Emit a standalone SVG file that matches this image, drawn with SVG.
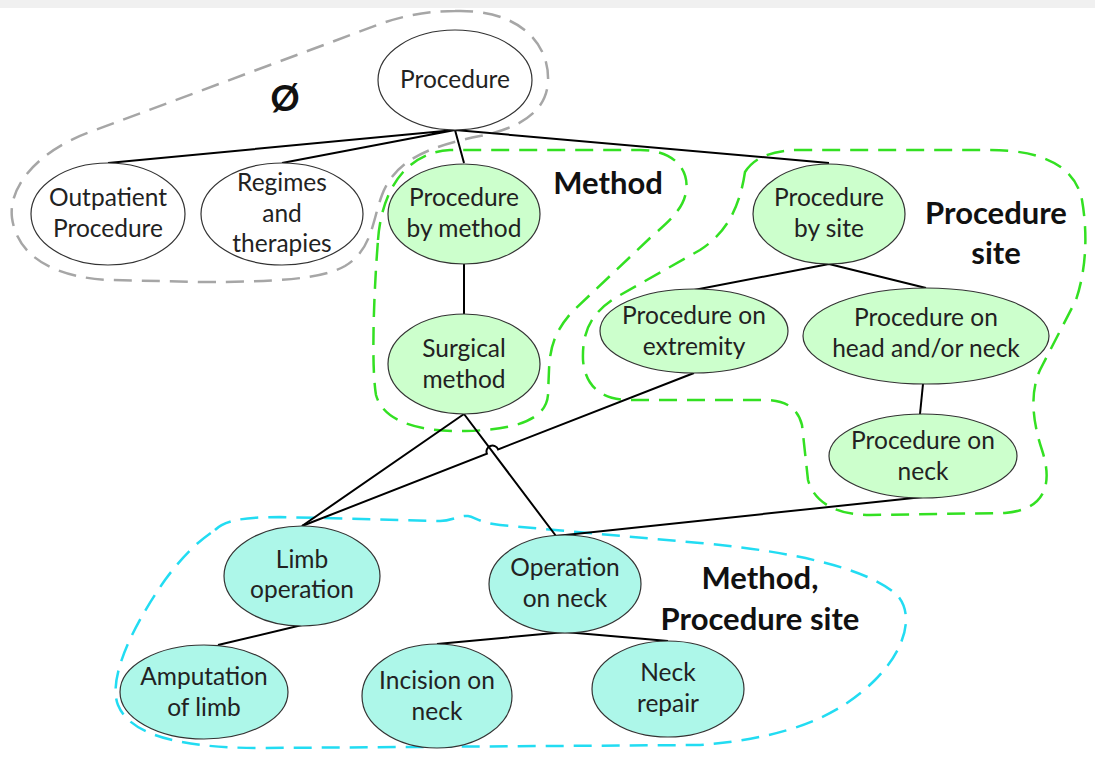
<svg xmlns="http://www.w3.org/2000/svg" width="1095" height="760" viewBox="0 0 1095 760">
<style>
.n{stroke:#333;stroke-width:1.2}
.w{fill:#fff}
.g{fill:#ccffcc}
.c{fill:#adf7e9}
.t{font-family:Lato,"Liberation Sans",sans-serif;font-size:24.5px;fill:#222;text-anchor:middle}
.b{font-family:Lato,"Liberation Sans",sans-serif;font-size:31px;font-weight:bold;fill:#111;text-anchor:middle}
.e{stroke:#000;stroke-width:2;fill:none}
.d{fill:none;stroke-width:2.5;stroke-dasharray:18 10}
</style>
<rect width="1095" height="760" fill="#fff"/>
<rect width="1095" height="8" fill="#f0f0f0"/>
<g id="groups">
<path id="grp-empty" class="d" stroke="#a6a6a6" d="M455 11 C515 9 550 40 548 82 C546 112 520 128 480 136 C430 146 395 160 382 195 C372 222 372 250 345 266 C320 280 270 282 200 282 L110 280 C60 278 18 260 12 218 C8 185 40 150 90 132 L380 24 C405 15 430 11 455 11 Z"/>
<path id="grp-method" class="d" stroke="#33e022" d="M378 240 C382 185 410 152 450 150 L640 150 C672 150 690 168 686 192 C683 210 668 222 650 238 L572 312 C556 330 550 345 549 370 L548 395 C546 420 515 430 465 431 C415 432 383 420 376 395 C371 365 374 290 378 240 Z"/>
<path id="grp-site" class="d" stroke="#33e022" d="M745 172 C755 156 775 150 800 150 L990 150 C1040 150 1075 165 1082 200 C1088 235 1086 270 1076 300 L1040 370 C1030 392 1032 420 1042 450 C1055 490 1040 510 1005 513 L870 515 C840 515 815 505 808 480 L802 425 C798 408 785 400 765 400 L630 400 C600 400 585 385 583 360 C582 330 592 313 615 298 L700 250 C728 232 740 205 745 172 Z"/>
<path id="grp-both" class="d" stroke="#22dcf2" d="M215 530 C225 520 245 517 280 517 L440 521 C452 521 460 515 468 516 C475 517 480 523 500 525 L700 543 C800 552 870 570 897 595 C915 615 905 650 875 680 C840 715 790 738 700 745 L260 748 C180 748 130 735 118 705 C108 680 130 630 165 580 C185 553 200 540 215 530 Z"/>
<text class="b" x="285" y="111" style="font-size:36px">Ø</text>
<text class="b" x="608" y="194">Method</text>
<text class="b" x="996" y="224">Procedure</text>
<text class="b" x="996" y="264">site</text>
<text class="b" x="760" y="589">Method,</text>
<text class="b" x="760" y="630">Procedure site</text>
</g>
<g id="connectors">
<path class="e" d="M455 130 L108 163 M455 130 L282 163 M455 130 L464 163 M455 130 L829 163"/>
<path class="e" d="M464 264 L464 314"/>
<path class="e" d="M829 264 L694 290 M829 264 L926 288"/>
<path class="e" d="M923 384 L920 414"/>
<path class="e" d="M464 414 L302 526 M464 414 L556 536"/>
<path class="e" d="M694 373 L498.1 449.4 A6 6 0 0 0 486.9 453.8 L302 526"/>
<path class="e" d="M923 497 L556 536"/>
<path class="e" d="M302 625 L218 645"/>
<path class="e" d="M565 632 L437 644 M565 632 L668 641"/>
</g>
<g id="n-procedure"><ellipse class="n w" cx="455" cy="80" rx="77" ry="50"/><text class="t" x="455" y="88">Procedure</text></g>
<g id="n-outpatient"><ellipse class="n w" cx="108" cy="214" rx="77" ry="51"/><text class="t" x="108" y="206">Outpatient</text><text class="t" x="108" y="237">Procedure</text></g>
<g id="n-regimes"><ellipse class="n w" cx="282" cy="214" rx="81" ry="51"/><text class="t" x="282" y="191">Regimes</text><text class="t" x="282" y="222">and</text><text class="t" x="282" y="252">therapies</text></g>
<g id="n-by-method"><ellipse class="n g" cx="464" cy="214" rx="76" ry="50"/><text class="t" x="464" y="206">Procedure</text><text class="t" x="464" y="237">by method</text></g>
<g id="n-by-site"><ellipse class="n g" cx="829" cy="214" rx="76" ry="50"/><text class="t" x="829" y="206">Procedure</text><text class="t" x="829" y="237">by site</text></g>
<g id="n-surgical"><ellipse class="n g" cx="464" cy="364" rx="76" ry="50"/><text class="t" x="464" y="357">Surgical</text><text class="t" x="464" y="388">method</text></g>
<g id="n-extremity"><ellipse class="n g" cx="694" cy="331" rx="94" ry="42"/><text class="t" x="694" y="324">Procedure on</text><text class="t" x="694" y="355">extremity</text></g>
<g id="n-headneck"><ellipse class="n g" cx="926" cy="336" rx="123" ry="48"/><text class="t" x="926" y="326">Procedure on</text><text class="t" x="926" y="357">head and/or neck</text></g>
<g id="n-neck"><ellipse class="n g" cx="923" cy="456" rx="94" ry="42"/><text class="t" x="923" y="449">Procedure on</text><text class="t" x="923" y="480">neck</text></g>
<g id="n-limb-op"><ellipse class="n c" cx="302" cy="576" rx="78" ry="50"/><text class="t" x="302" y="568">Limb</text><text class="t" x="302" y="598">operation</text></g>
<g id="n-op-neck"><ellipse class="n c" cx="565" cy="584" rx="76" ry="49"/><text class="t" x="565" y="576">Operation</text><text class="t" x="565" y="607">on neck</text></g>
<g id="n-amputation"><ellipse class="n c" cx="204" cy="692" rx="84" ry="47"/><text class="t" x="204" y="685">Amputation</text><text class="t" x="204" y="716">of limb</text></g>
<g id="n-incision"><ellipse class="n c" cx="437" cy="696" rx="75" ry="52"/><text class="t" x="437" y="689">Incision on</text><text class="t" x="437" y="720">neck</text></g>
<g id="n-neck-repair"><ellipse class="n c" cx="668" cy="689" rx="76" ry="48"/><text class="t" x="668" y="681">Neck</text><text class="t" x="668" y="712">repair</text></g>
</svg>
